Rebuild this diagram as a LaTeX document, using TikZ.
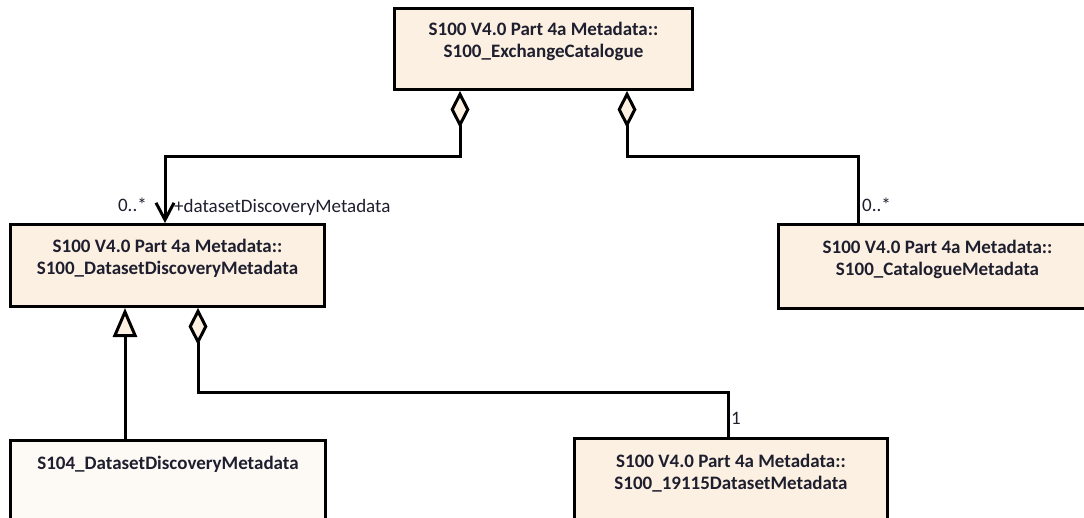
\documentclass[tikz,border=0pt]{standalone}
\usepackage{fontspec}
\setmainfont{Carlito}
\usetikzlibrary{arrows.meta,calc}
\definecolor{boxfill}{HTML}{FBF0E1}
\definecolor{subfill}{HTML}{FDF9F5}
\definecolor{ink}{HTML}{1E1E2E}
\begin{document}
\begin{tikzpicture}[x=1pt,y=-1pt,
  cls/.style={draw=black, line width=3pt, fill=boxfill, text=ink,
    font=\fontsize{19}{22}\selectfont\bfseries, align=center,
    inner sep=0pt, anchor=north west},
  lbl/.style={text=ink, font=\fontsize{19}{22}\selectfont, inner sep=0pt},
  link/.style={line width=3pt, line join=miter},
  agg/.style={link, {Diamond[length=37pt,width=19pt,fill=boxfill]}-},
  aggnav/.style={link, {Diamond[length=37pt,width=19pt,fill=boxfill]}-{Straight Barb[length=17pt,width=18pt]}},
  gen/.style={link, -{Triangle[length=29pt,width=24pt,fill=boxfill]}}
]
\useasboundingbox (0,0) rectangle (1084,517);
\fill[white] (0,0) rectangle (1084,517);
\clip (0,0) rectangle (1084,517);

% classes
\node[cls, minimum width=298pt, minimum height=81pt] (top) at (393,7)
  {S100 V4.0 Part 4a Metadata::\\S100\_ExchangeCatalogue\\[-4pt]};
\node[cls, minimum width=314pt, minimum height=82pt] (ddm) at (9,223)
  {S100 V4.0 Part 4a Metadata::\\S100\_DatasetDiscoveryMetadata\\[-4pt]};
\node[cls, minimum width=318pt, minimum height=84pt] (cat) at (777,223)
  {S100 V4.0 Part 4a Metadata::\\S100\_CatalogueMetadata\\[-4pt]};
\node[cls, fill=subfill, minimum width=315pt, minimum height=84pt] (sub) at (9,439)
  {S104\_DatasetDiscoveryMetadata\\\mbox{}\\[-4pt]};
\node[cls, minimum width=313pt, minimum height=84pt] (iso) at (573,437)
  {S100 V4.0 Part 4a Metadata::\\S100\_19115DatasetMetadata\\[-4pt]};

% connector end points
\coordinate (a1) at ($(top.south west)+(67,0)$);
\coordinate (b1) at ($(ddm.north west)+(156,0)$);
\coordinate (a2) at ($(top.south west)+(234,0)$);
\coordinate (b2) at ($(cat.north west)+(81,0)$);
\coordinate (g0) at ($(sub.north west)+(116,0)$);
\coordinate (a3) at ($(ddm.south west)+(189,0)$);
\coordinate (b3) at ($(iso.north west)+(155,0)$);

% aggregations and generalization
\draw[aggnav] (a1) -- ++(0,65) -| (b1);
\draw[agg] (a2) -- ++(0,65) -| (b2);
\draw[gen] (g0) -- (g0 |- ddm.south);
\draw[agg] (a3) -- ++(0,84) -| (b3);

% role names and multiplicities
\node[lbl, anchor=east] (m1) at (147,205) {0..*};
\node[lbl, anchor=west] (r1) at (174,207) {+datasetDiscoveryMetadata};
\node[lbl, anchor=west] (m2) at (862,205) {0..*};
\node[lbl, anchor=west] (m3) at (731,418) {1};
\end{tikzpicture}
\end{document}
